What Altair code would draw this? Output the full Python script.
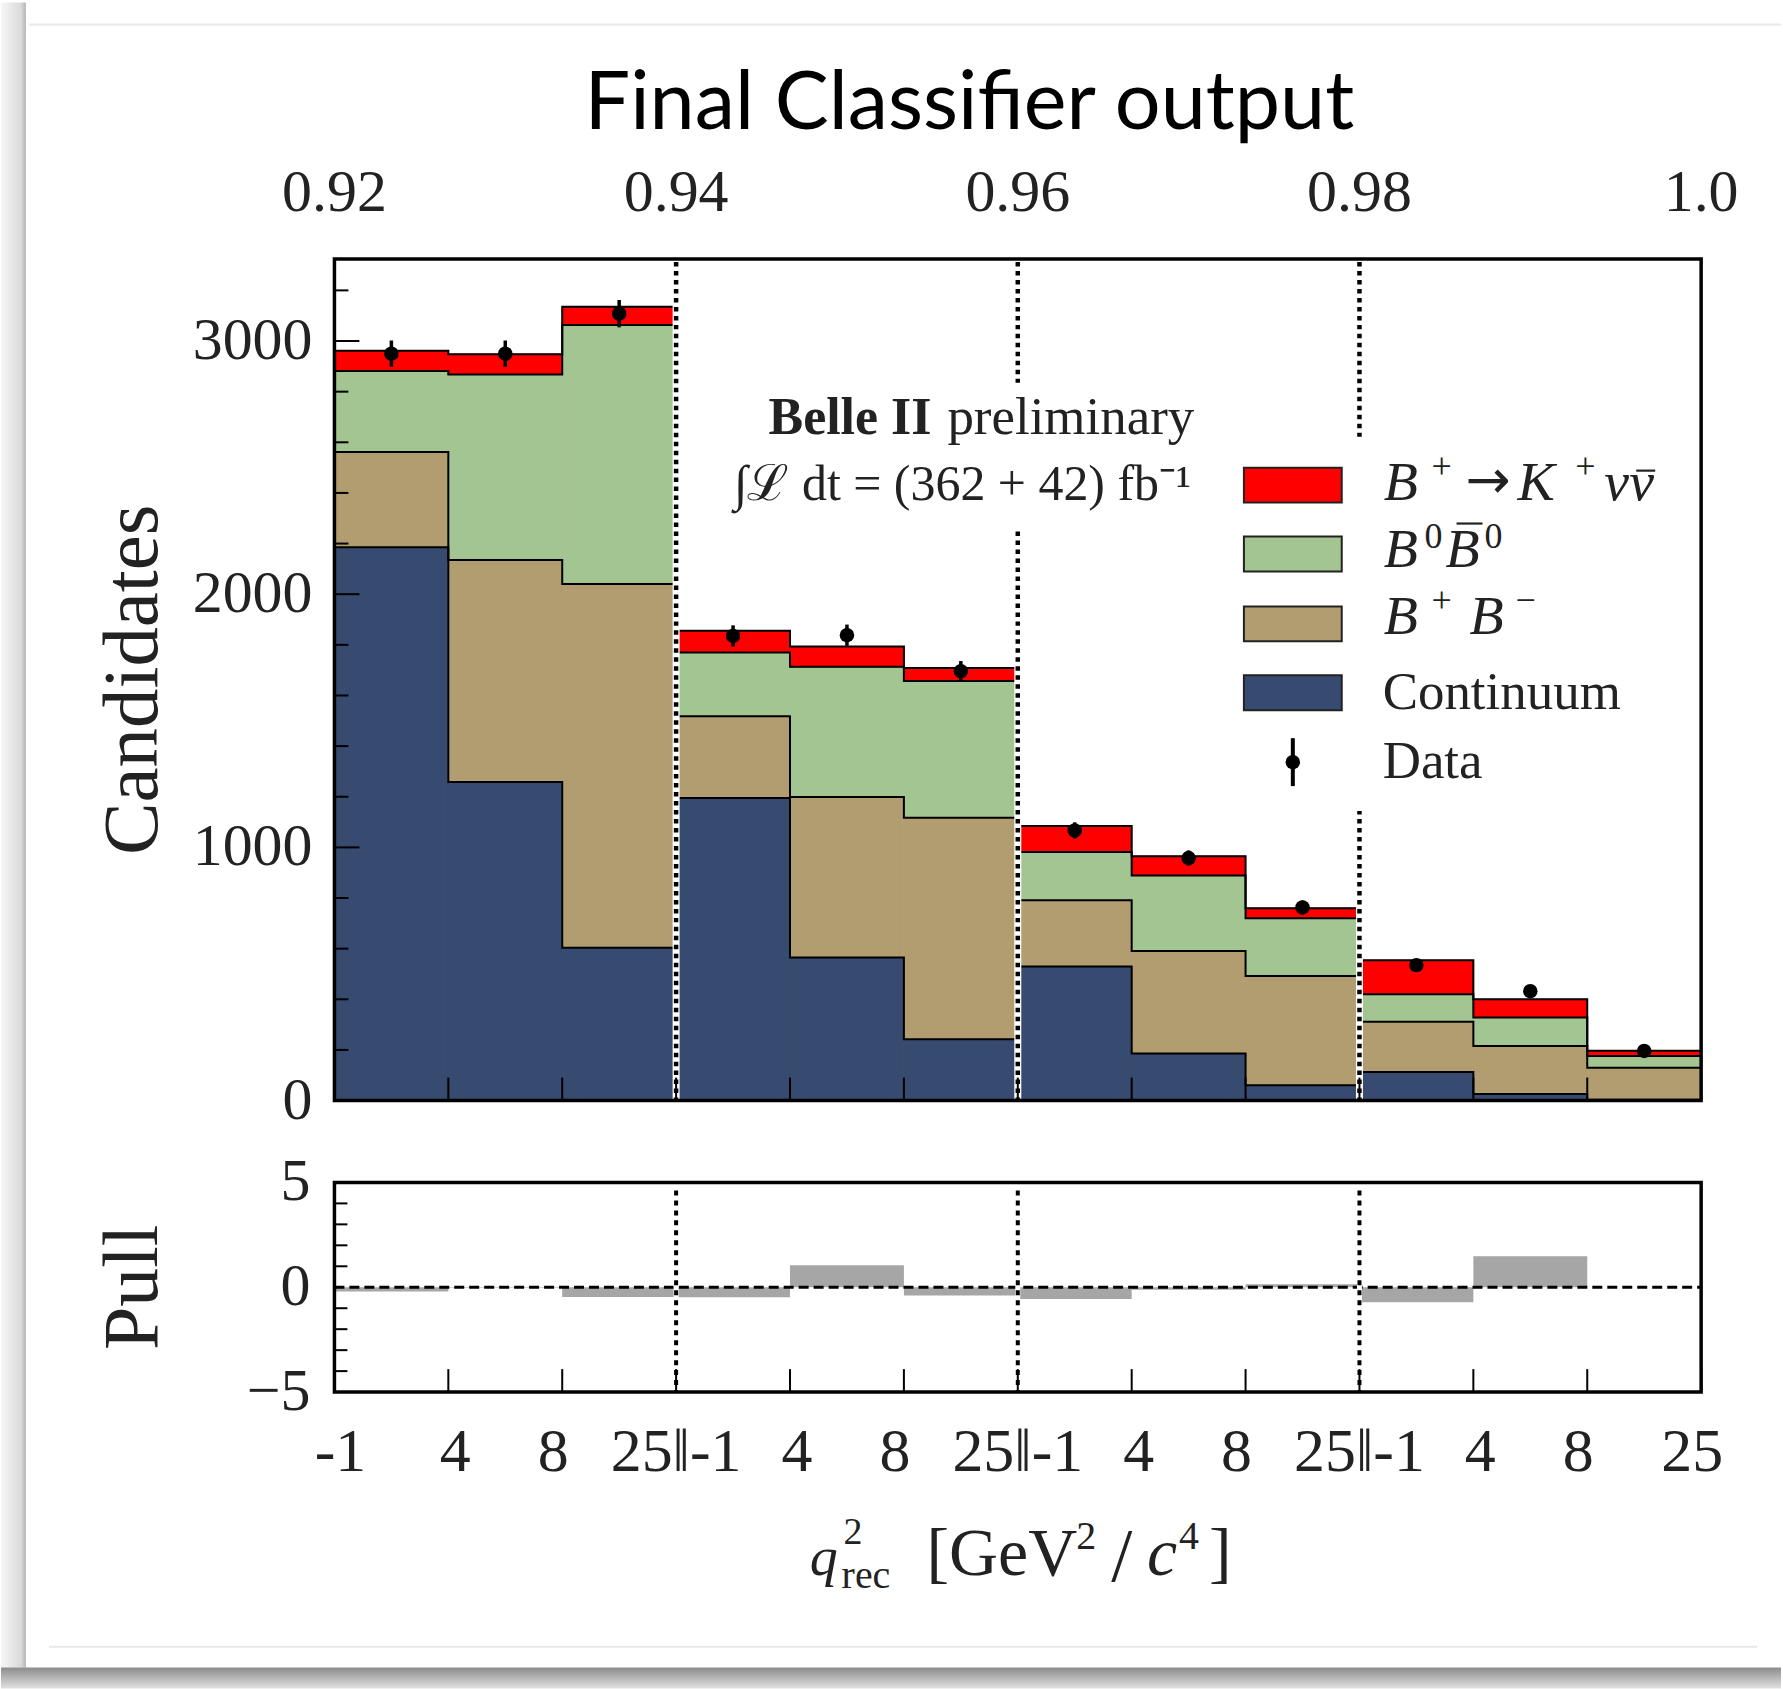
import altair as alt
import pandas as pd

# ---------------- data ----------------
region_edges = [0.92, 0.94, 0.96, 0.98, 1.0]
top_tick_labels = ["0.92", "0.94", "0.96", "0.98", "1.0"]
q2_bin_labels = ["-1", "4", "8", "25"]
y_tick_values = [0, 1000, 2000, 3000]
pull_tick_values = [5, 0, -5]
pull_tick_labels = ["5", "0", "\u22125"]

continuum = [2185, 1258, 604, 1195, 565, 242, 530, 186, 61, 113, 26, 3]
bpbm = [377, 877, 1436, 323, 634, 875, 261, 405, 431, 198, 190, 127]
b0b0 = [320, 733, 1023, 252, 514, 540, 191, 298, 228, 109, 112, 46]
signal = [80, 80, 72, 86, 80, 52, 102, 76, 40, 134, 72, 21]
data_counts = [2950, 2950, 3108, 1835, 1838, 1696, 1067, 958, 763, 535, 432, 196]
data_errors = [52, 52, 54, 42, 42, 40, 32, 30, 27, 23, 20, 14]
pulls = [-0.2, -0.02, -0.47, -0.48, 1.05, -0.39, -0.56, -0.12, 0.14, -0.72, 1.48, 0.0]

comp_names = ["Continuum", "BpBm", "B0B0", "Signal"]
comp_colors = ["#374a6f", "#b29d71", "#a3c592", "#ff0000"]
legend_colors = ["#ff0000", "#a3c592", "#b29d71", "#374a6f"]

# ---------------- layout constants ----------------
W, H, PH = 1369, 843, 210
OX, OY = 334, 257          # plot origin on the page
PAGE_W, PAGE_H = 1783, 1689
YMAX = 3324
SERIF = "Liberation Serif"
INK = "#222222"

# bins
bin_lo, bin_hi = [], []
for r in range(4):
    a, b = region_edges[r], region_edges[r + 1]
    for k in range(3):
        bin_lo.append(a + (b - a) * k / 3)
        bin_hi.append(a + (b - a) * (k + 1) / 3)
edges = bin_lo + [bin_hi[-1]]
centers = [(l + h) / 2 for l, h in zip(bin_lo, bin_hi)]

edge_labels, edge_dx = [], []
for j in range(13):
    if j == 0:
        edge_labels.append(q2_bin_labels[0]); edge_dx.append(6)
    elif j == 12:
        edge_labels.append(q2_bin_labels[3]); edge_dx.append(-9)
    elif j % 3 == 0:
        edge_labels.append(q2_bin_labels[3] + "\u2016" + q2_bin_labels[0]); edge_dx.append(0)
    elif j % 3 == 1:
        edge_labels.append(q2_bin_labels[1]); edge_dx.append(7)
    else:
        edge_labels.append(q2_bin_labels[2]); edge_dx.append(-9)

x_scale = alt.Scale(domain=[0.92, 1.0], nice=False, zero=False)
y_scale = alt.Scale(domain=[0, YMAX], nice=False)
p_scale = alt.Scale(domain=[-5, 5], nice=False)
c_scale = alt.Scale(domain=comp_names, range=comp_colors)

one = pd.DataFrame({"a": [0]})

# stacked components
comps = [continuum, bpbm, b0b0, signal]
rows, step_rows = [], []
cum_prev = [0] * 12
for name, vals in zip(comp_names, comps):
    cum = [p + v for p, v in zip(cum_prev, vals)]
    for i in range(12):
        rows.append({"comp": name, "lo": bin_lo[i], "hi": bin_hi[i], "y0": cum_prev[i], "y1": cum[i]})
    for j, e in enumerate(edges):
        step_rows.append({"comp": name, "x": e, "y": cum[min(j, 11)], "o": j})
    cum_prev = cum
rect_df = pd.DataFrame(rows)
step_df = pd.DataFrame(step_rows)

data_df = pd.DataFrame({
    "c": centers, "n": data_counts,
    "lo": [n - e for n, e in zip(data_counts, data_errors)],
    "hi": [n + e for n, e in zip(data_counts, data_errors)],
})
bound_df = pd.DataFrame({"x": region_edges[1:4]})
edge_df = pd.DataFrame({"x": edges, "t": edge_labels, "dx": edge_dx})
top_df = pd.DataFrame({"x": region_edges, "t": top_tick_labels})
ylab_df = pd.DataFrame({"v": y_tick_values, "t": [str(v) for v in y_tick_values]})
plab_df = pd.DataFrame({"v": pull_tick_values, "t": pull_tick_labels})
major_df = pd.DataFrame({"v": y_tick_values})
minor_df = pd.DataFrame({"v": [v for v in range(200, 3300, 200) if v % 1000 != 0]})

X = lambda f: alt.X(f, scale=x_scale, axis=None)
Y = lambda f: alt.Y(f, scale=y_scale, axis=None)
P = lambda f: alt.Y(f, scale=p_scale, axis=None)


def px_rect(x1, x2, y1, y2, **kw):
    return alt.Chart(one).mark_rect(**kw).encode(
        x=alt.value(x1), x2=alt.value(x2), y=alt.value(y1), y2=alt.value(y2))


def px_text(txt, x, y, size, italic=False, bold=False, align="left", font=SERIF, color=INK, angle=0):
    kw = dict(text=txt, font=font, fontSize=size, align=align, baseline="alphabetic", color=color)
    if italic:
        kw["fontStyle"] = "italic"
    if bold:
        kw["fontWeight"] = "bold"
    if angle:
        kw["angle"] = angle
    return alt.Chart(one).mark_text(**kw).encode(x=alt.value(x), y=alt.value(y))


def px_rule(x1, x2, y1, y2, **kw):
    return alt.Chart(one).mark_rule(**kw).encode(
        x=alt.value(x1), x2=alt.value(x2), y=alt.value(y1), y2=alt.value(y2))


# ---------------- background (page card) ----------------
bg = [
    px_rect(-OX, PAGE_W - OX, -OY, PAGE_H - OY, fill="white"),
    px_rect(-OX, -OX + 25, -OY, 1668 - OY,
            fill=alt.Gradient(gradient="linear",
                              stops=[alt.GradientStop(color="#f6f6f6", offset=0),
                                     alt.GradientStop(color="#dadada", offset=0.8),
                                     alt.GradientStop(color="#b5b5b5", offset=1)],
                              x1=0, x2=1, y1=0, y2=0)),
    px_rect(-OX, PAGE_W - OX, 1668 - OY, PAGE_H - OY,
            fill=alt.Gradient(gradient="linear",
                              stops=[alt.GradientStop(color="#8c8c8c", offset=0),
                                     alt.GradientStop(color="#e2e2e2", offset=1)],
                              x1=0, x2=0, y1=0, y2=1)),
    px_rule(28 - OX, PAGE_W - OX, 22 - OY, 22 - OY, color="#e8e8e8", strokeWidth=2),
    px_rule(48 - OX, 1759 - OX, 1647 - OY, 1647 - OY, color="#e8e8e8", strokeWidth=2),
]

# ---------------- main panel ----------------
bars = alt.Chart(rect_df).mark_rect(strokeWidth=1).encode(
    x=X("lo:Q"), x2="hi:Q", y=Y("y0:Q"), y2="y1:Q",
    color=alt.Color("comp:N", scale=c_scale, legend=None),
    stroke=alt.Stroke("comp:N", scale=c_scale, legend=None),
)
steps = alt.Chart(step_df).mark_line(interpolate="step-after", color="black", strokeWidth=2).encode(
    x=X("x:Q"), y=Y("y:Q"), detail="comp:N", order="o:Q")
err = alt.Chart(data_df).mark_rule(color="black", strokeWidth=3.5).encode(
    x=X("c:Q"), y=Y("lo:Q"), y2="hi:Q")
pts = alt.Chart(data_df).mark_circle(color="black", opacity=1, size=210).encode(
    x=X("c:Q"), y=Y("n:Q"))

vwhite = alt.Chart(bound_df).mark_rule(color="white", strokeWidth=7).encode(
    x=X("x:Q"), y=alt.value(0), y2=alt.value(H))
vdot = alt.Chart(bound_df).mark_rule(color="black", strokeWidth=4.5, strokeDash=[4.5, 4.5],
                                     strokeCap="butt").encode(
    x=X("x:Q"), y=alt.value(3), y2=alt.value(H))

boxes = [
    px_rect(380, 872, 124, 272, fill="white"),
    px_rect(896, 1345, 178, 553, fill="white"),
]

xticks = alt.Chart(edge_df).mark_rule(color="black", strokeWidth=2).encode(
    x=X("x:Q"), y=alt.value(H), y2=alt.value(H - 23))
yticks_major = alt.Chart(major_df).mark_rule(color="black", strokeWidth=2).encode(
    y=Y("v:Q"), x=alt.value(0), x2=alt.value(25))
yticks_minor = alt.Chart(minor_df).mark_rule(color="black", strokeWidth=2).encode(
    y=Y("v:Q"), x=alt.value(0), x2=alt.value(14))

# axis labels as text marks placed through the scales
top_labels = alt.Chart(top_df).mark_text(font=SERIF, fontSize=60, color=INK, align="center",
                                         baseline="alphabetic").encode(
    x=X("x:Q"), y=alt.value(-48), text="t:N")
y_labels = alt.Chart(ylab_df).mark_text(font=SERIF, fontSize=60, color=INK, align="right",
                                        baseline="middle").encode(
    y=Y("v:Q"), x=alt.value(-22), text="t:N")

texts = [
    px_text("Candidates", -178, H / 2, 79, align="center", angle=270),
    px_text("Final Classifier output", 636, -130, 81, align="center", font="Lato", color="black"),
    px_text("Belle II", 598, 175, 52, bold=True, align="right"),
    px_text("preliminary", 614, 175, 53),
    px_text("\u222b\u2112 dt = (362 + 42) fb\u207b\u00b9", 858, 241, 50, align="right"),
]

# legend: boxes + composed math labels
legend = []
leg_tops = [209, 278, 348, 417]
for i in range(4):
    legend.append(px_rect(911, 1009, leg_tops[i], leg_tops[i] + 35, fill=legend_colors[i],
                          stroke=INK, strokeWidth=2))
b1 = 241
legend += [
    px_text("B", 1051, b1, 56, italic=True),
    px_text("+", 1099, b1 - 22, 36),
    px_text("\u2192", 1133, b1 - 2, 54, font="DejaVu Sans"),
    px_text("K", 1185, b1, 56, italic=True),
    px_text("+", 1243, b1 - 22, 36),
    px_text("\u03bd", 1272, b1, 56, italic=True),
    px_text("\u03bd", 1297, b1, 56, italic=True),
    px_rule(1304, 1323, b1 - 29, b1 - 29, color=INK, strokeWidth=2.2),
]
b2 = 309
legend += [
    px_text("B", 1051, b2, 56, italic=True),
    px_text("0", 1092, b2 - 20, 36),
    px_text("B", 1113, b2, 56, italic=True),
    px_rule(1124, 1150, b2 - 44, b2 - 44, color=INK, strokeWidth=2.2),
    px_text("0", 1152, b2 - 20, 36),
]
b3 = 376
legend += [
    px_text("B", 1051, b3, 56, italic=True),
    px_text("+", 1099, b3 - 22, 36),
    px_text("B", 1137, b3, 56, italic=True),
    px_text("\u2212", 1183, b3 - 22, 36),
]
legend += [
    px_text("Continuum", 1050, 451, 53),
    px_rule(960, 960, 480, 528, color="black", strokeWidth=4),
    alt.Chart(one).mark_circle(color="black", opacity=1, size=210).encode(
        x=alt.value(960), y=alt.value(504)),
    px_text("Data", 1050, 520, 53),
]

frame = px_rect(0, W, 0, H, fill="white", fillOpacity=0, stroke="black", strokeWidth=3.5)

main = alt.layer(*bg, bars, steps, err, pts, vwhite, vdot, *boxes, xticks, yticks_major,
                 yticks_minor, top_labels, y_labels, *texts, *legend, frame).properties(
    width=W, height=H)

# ---------------- pull panel ----------------
pull_df = pd.DataFrame({"lo": bin_lo, "hi": bin_hi, "zero": [0] * 12, "pull": pulls})
pbars = alt.Chart(pull_df).mark_rect(color="#a6a6a6", strokeWidth=0).encode(
    x=X("lo:Q"), x2="hi:Q", y=P("zero:Q"), y2="pull:Q")
zero_line = alt.Chart(pd.DataFrame({"z": [0]})).mark_rule(
    color="black", strokeWidth=3, strokeDash=[10, 5]).encode(
    y=P("z:Q"), x=alt.value(0), x2=alt.value(W))
p_vwhite = alt.Chart(bound_df).mark_rule(color="white", strokeWidth=5).encode(
    x=X("x:Q"), y=alt.value(0), y2=alt.value(PH))
p_vdot = alt.Chart(bound_df).mark_rule(color="black", strokeWidth=4, strokeDash=[5, 5],
                                       strokeCap="butt").encode(
    x=X("x:Q"), y=alt.value(8), y2=alt.value(PH))
p_xticks = alt.Chart(edge_df).mark_rule(color="black", strokeWidth=2).encode(
    x=X("x:Q"), y=alt.value(PH), y2=alt.value(PH - 23))
p_minor = alt.Chart(pd.DataFrame({"v": [-4, -3, -2, -1, 1, 2, 3, 4]})).mark_rule(
    color="black", strokeWidth=2).encode(
    y=P("v:Q"), x=alt.value(0), x2=alt.value(13))

bottom_labels = []
for dxv in sorted(set(edge_dx)):
    bottom_labels.append(
        alt.Chart(edge_df[edge_df["dx"] == dxv]).mark_text(
            font=SERIF, fontSize=62, color=INK, align="center", baseline="alphabetic", dx=dxv
        ).encode(x=X("x:Q"), y=alt.value(289), text="t:N"))
p_labels = alt.Chart(plab_df).mark_text(font=SERIF, fontSize=60, color=INK, align="right",
                                        baseline="middle").encode(
    y=P("v:Q"), x=alt.value(-24), text="t:N")

xb = 393
ptexts = [
    px_text("Pull", -178, PH / 2, 78, align="center", angle=270),
    px_text("q", 476, xb, 56, italic=True),
    px_text("2", 510, xb - 31, 38),
    px_text("rec", 508, xb + 13, 40),
    px_text("[GeV", 593, xb, 68),
    px_text("2", 743, xb - 26, 40),
    px_text("/", 778, xb + 6, 76),
    px_text("c", 814, xb, 68, italic=True),
    px_text("4", 846, xb - 26, 40),
    px_text("]", 876, xb, 68),
]
p_frame = px_rect(0, W, 0, PH, fill="white", fillOpacity=0, stroke="black", strokeWidth=3.5)

pull = alt.layer(pbars, zero_line, p_vwhite, p_vdot, p_xticks, p_minor, *bottom_labels, p_labels,
                 *ptexts, p_frame).properties(width=W, height=PH)

chart = alt.vconcat(main, pull, spacing=82, bounds="flush", padding=0).configure_view(
    strokeWidth=0).configure(background="white")

chart.save("out.html", embed_options={"renderer": "svg", "actions": False})
